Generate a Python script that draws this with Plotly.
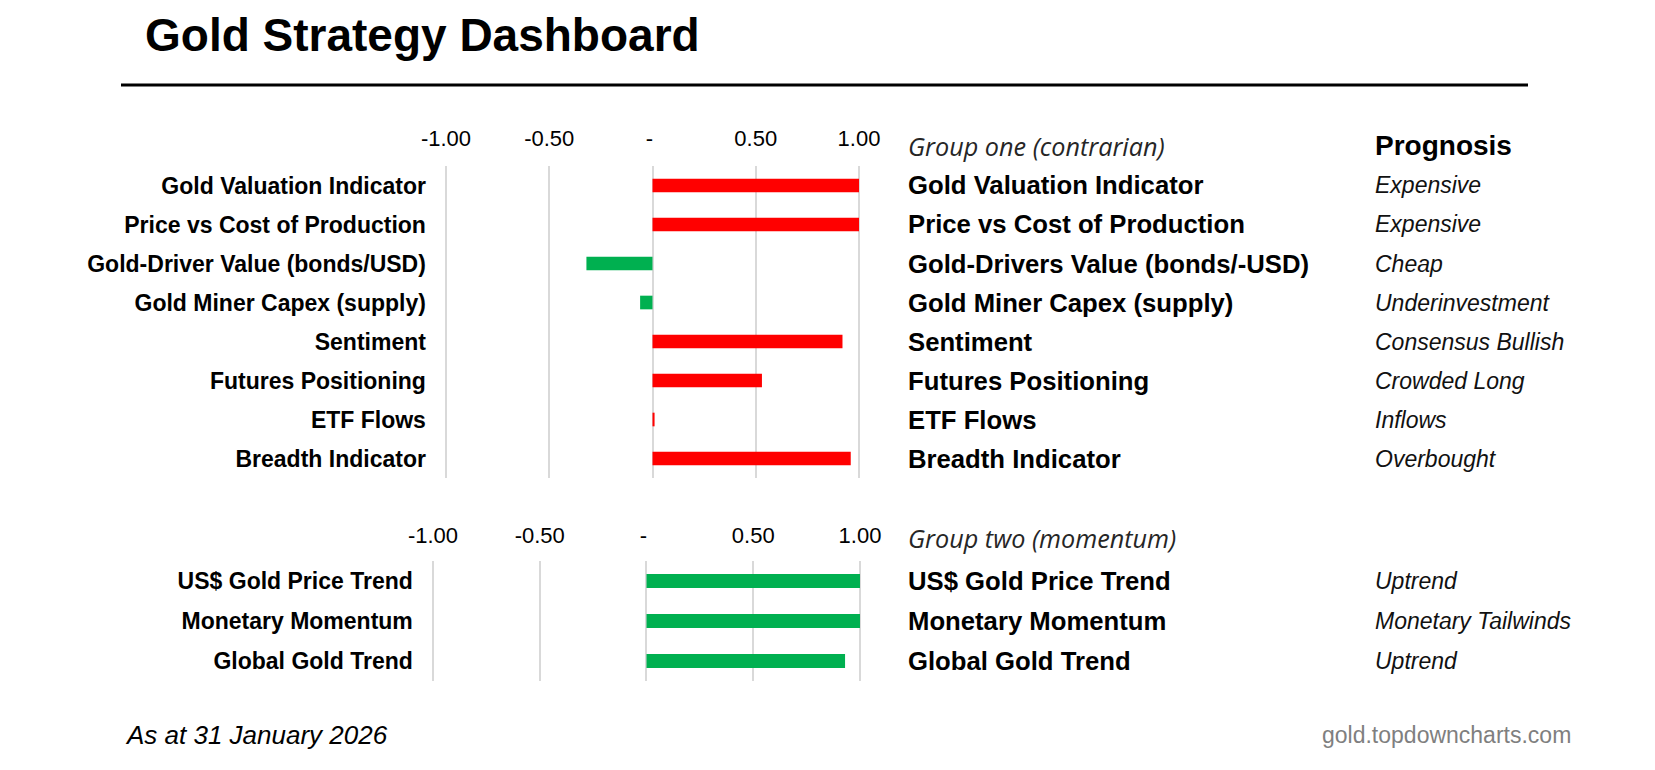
import plotly.graph_objects as go

W, H = 1655, 770

# ---------------- data ----------------
title = "Gold Strategy Dashboard"

g1_header = "Group one (contrarian)"
g1_labels = ["Gold Valuation Indicator", "Price vs Cost of Production", "Gold-Driver Value (bonds/USD)",
             "Gold Miner Capex (supply)", "Sentiment", "Futures Positioning", "ETF Flows", "Breadth Indicator"]
g1_names = ["Gold Valuation Indicator", "Price vs Cost of Production", "Gold-Drivers Value (bonds/-USD)",
            "Gold Miner Capex (supply)", "Sentiment", "Futures Positioning", "ETF Flows", "Breadth Indicator"]
g1_values = [1.00, 1.00, -0.32, -0.06, 0.92, 0.53, 0.01, 0.96]
g1_prognosis = ["Expensive", "Expensive", "Cheap", "Underinvestment", "Consensus Bullish",
                "Crowded Long", "Inflows", "Overbought"]

g2_header = "Group two (momentum)"
g2_labels = ["US$ Gold Price Trend", "Monetary Momentum", "Global Gold Trend"]
g2_names = ["US$ Gold Price Trend", "Monetary Momentum", "Global Gold Trend"]
g2_values = [1.00, 1.00, 0.93]
g2_prognosis = ["Uptrend", "Monetary Tailwinds", "Uptrend"]

tick_vals = [-1.0, -0.5, 0.0, 0.5, 1.0]
tick_text = ["-1.00", "-0.50", "- ", "0.50", "1.00"]

prognosis_header = "Prognosis"
footer_left = "As at 31 January 2026"
footer_right = "gold.topdowncharts.com"

# ---------------- styling ----------------
RED = "#FF0000"
GREEN = "#00B050"
GRID = "#D9D9D9"
FONT = "Liberation Sans, Arial, sans-serif"
PAD = 0.015  # small range padding so the edge gridlines are drawn


def px(x):
    return x / W


def py(y):
    return 1 - y / H


def xdomain(p_lo, p_hi):
    unit = (p_hi - p_lo) / 2.0
    return [px(p_lo - PAD * unit), px(p_hi + PAD * unit)]


fig = go.Figure()

fig.add_trace(go.Bar(
    x=g1_values, y=g1_labels, orientation="h",
    marker=dict(color=[RED if v > 0 else GREEN for v in g1_values], line=dict(width=0)),
    xaxis="x", yaxis="y", hoverinfo="skip", showlegend=False,
))
fig.add_trace(go.Bar(
    x=g2_values, y=g2_labels, orientation="h",
    marker=dict(color=[GREEN if v > 0 else RED for v in g2_values], line=dict(width=0)),
    xaxis="x2", yaxis="y2", hoverinfo="skip", showlegend=False,
))

xcommon = dict(range=[-1 - PAD, 1 + PAD], tickvals=tick_vals, ticktext=tick_text, side="top",
               showgrid=True, gridcolor=GRID, gridwidth=2, zeroline=False, showline=False,
               ticks="", tickfont=dict(family=FONT, size=22, color="#000000"),
               fixedrange=True, automargin=False)
ycommon = dict(autorange="reversed", showgrid=False, zeroline=False, showline=False, ticks="",
               tickfont=dict(family=FONT, size=23, color="#000000", weight="bold"),
               fixedrange=True, automargin=False)

fig.update_layout(
    width=W, height=H,
    margin=dict(l=0, r=0, t=0, b=0),
    paper_bgcolor="white", plot_bgcolor="white",
    bargap=0.65,
    xaxis=dict(domain=xdomain(446, 859), anchor="y", ticklabelstandoff=15, **xcommon),
    yaxis=dict(domain=[py(478), py(166)], anchor="x", ticklabelstandoff=16, **ycommon),
    xaxis2=dict(domain=xdomain(433, 860), anchor="y2", ticklabelstandoff=13, **xcommon),
    yaxis2=dict(domain=[py(681), py(561)], anchor="x2", ticklabelstandoff=16, **ycommon),
)

ann = []
# title
ann.append(dict(text=title, x=px(143), y=py(35.5), xref="paper", yref="paper", xanchor="left",
                yanchor="middle", showarrow=False,
                font=dict(family=FONT, size=46, color="#000000", weight="bold")))
# headers
ann.append(dict(text=g1_header, x=px(906), y=py(146), xref="paper", yref="paper", xanchor="left",
                yanchor="middle", showarrow=False,
                font=dict(family="Open Sans", size=25.2, color="#262626", style="italic")))
ann.append(dict(text=prognosis_header, x=px(1373), y=py(146), xref="paper", yref="paper",
                xanchor="left", yanchor="middle", showarrow=False,
                font=dict(family=FONT, size=28, color="#000000", weight="bold")))
ann.append(dict(text=g2_header, x=px(906), y=py(538), xref="paper", yref="paper", xanchor="left",
                yanchor="middle", showarrow=False,
                font=dict(family="Open Sans", size=25.2, color="#262626", style="italic")))

for lab, name, prog in zip(g1_labels, g1_names, g1_prognosis):
    ann.append(dict(text=name, x=px(906), y=lab, xref="paper", yref="y", xanchor="left",
                    yanchor="middle", showarrow=False,
                    font=dict(family=FONT, size=25.7, color="#000000", weight="bold")))
    ann.append(dict(text=prog, x=px(1373), y=lab, xref="paper", yref="y", xanchor="left",
                    yanchor="middle", showarrow=False,
                    font=dict(family=FONT, size=23, color="#111111", style="italic")))
for lab, name, prog in zip(g2_labels, g2_names, g2_prognosis):
    ann.append(dict(text=name, x=px(906), y=lab, xref="paper", yref="y2", xanchor="left",
                    yanchor="middle", showarrow=False,
                    font=dict(family=FONT, size=25.7, color="#000000", weight="bold")))
    ann.append(dict(text=prog, x=px(1373), y=lab, xref="paper", yref="y2", xanchor="left",
                    yanchor="middle", showarrow=False,
                    font=dict(family=FONT, size=23, color="#111111", style="italic")))

# footer
ann.append(dict(text=footer_left, x=px(122.5), y=py(735), xref="paper", yref="paper", xanchor="left",
                yanchor="middle", showarrow=False,
                font=dict(family=FONT, size=26, color="#000000", style="italic")))
ann.append(dict(text=footer_right, x=px(1573), y=py(735), xref="paper", yref="paper",
                xanchor="right", yanchor="middle", showarrow=False,
                font=dict(family=FONT, size=23, color="#7F7F7F")))

fig.update_layout(annotations=ann)

fig.add_shape(type="line", xref="paper", yref="paper", x0=px(121), x1=px(1528), y0=py(85), y1=py(85),
              line=dict(color="#000000", width=3))

fig.write_html("out.html", config={"displayModeBar": False},
               post_script="document.body.style.margin='0';document.body.style.padding='0';")
